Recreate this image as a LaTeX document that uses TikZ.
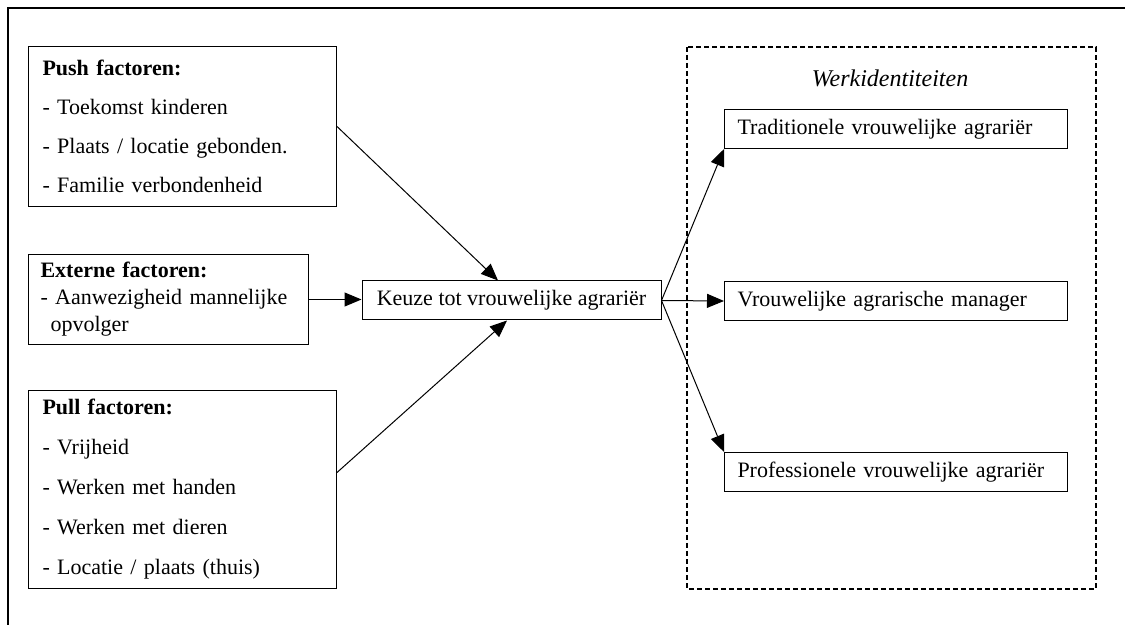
\documentclass[tikz,border=0pt]{standalone}
\usepackage{fontspec}
\setmainfont{Liberation Serif}
\usetikzlibrary{arrows.meta}

\begin{document}
\begin{tikzpicture}[x=0.5pt,y=0.5pt,yscale=-1,
  factorbox/.style={draw,line width=0.5pt,anchor=north west,align=left,inner xsep=7pt,inner ysep=0pt},
  identbox/.style={draw,line width=0.5pt,anchor=north west,align=left,inner xsep=6.5pt,inner ysep=0pt,
    text width=158.5pt,minimum height=19.5pt,font=\fontsize{11}{13}\selectfont},
  pijl/.style={line width=0.5pt,-{Triangle[length=8.5pt,width=7pt]}}]
\useasboundingbox (0,0) rectangle (1125,625);

%Shape: Frame
\draw [line width=1pt] (8,625) -- (8,8) -- (1125,8) ;
%Shape: Dashed Rectangle
\draw [line width=0.6pt,dash pattern={on 2.5pt off 1.5pt}] (687,47) rectangle (1096,589) ;

% Text Node
\node [factorbox,text width=140pt,minimum height=80pt,font=\fontsize{11}{19.5}\selectfont] (push) at (28,46)
  {\textbf{Push factoren:}\\- Toekomst kinderen\\- Plaats / locatie gebonden.\\- Familie verbondenheid};
% Text Node
\node [factorbox,inner xsep=6pt,text width=128pt,minimum height=45pt,font=\fontsize{11}{13.5}\selectfont] (externe) at (28,254)
  {\textbf{Externe factoren:}\\- Aanwezigheid mannelijke\\\hspace*{5pt}opvolger};
% Text Node
\node [factorbox,text width=140pt,minimum height=99pt,font=\fontsize{11}{20}\selectfont] (pull) at (28,390)
  {\textbf{Pull factoren:}\\- Vrijheid\\- Werken met handen\\- Werken met dieren\\- Locatie / plaats (thuis)};
% Text Node
\node [draw,line width=0.5pt,minimum width=149.5pt,minimum height=19.5pt,inner sep=0pt,font=\fontsize{11}{13}\selectfont] (keuze) at (511.5,300.5)
  {Keuze tot vrouwelijke agrariër};

% Text Node
\node [font=\fontsize{12}{14}\itshape] (werk) at (890,78) {Werkidentiteiten};
% Text Node
\node [identbox] (trad) at (724,109) {Traditionele vrouwelijke agrariër};
% Text Node
\node [identbox] (manager) at (724,281) {Vrouwelijke agrarische manager};
% Text Node
\node [identbox] (prof) at (724,452) {Professionele vrouwelijke agrariër};

%Straight Lines
\draw [pijl] (push.east) -- ([xshift=-6.75pt]keuze.north) ;
\draw [pijl] (externe.east) -- (externe.east -| keuze.west) ;
\draw [pijl] ([yshift=-8.5pt]pull.east) -- ([xshift=-2.25pt]keuze.south) ;
\draw [pijl] (keuze.east) -- (trad.south west) ;
\draw [pijl] (keuze.east) -- (manager.west) ;
\draw [pijl] (keuze.east) -- (prof.north west) ;

\end{tikzpicture}
\end{document}
